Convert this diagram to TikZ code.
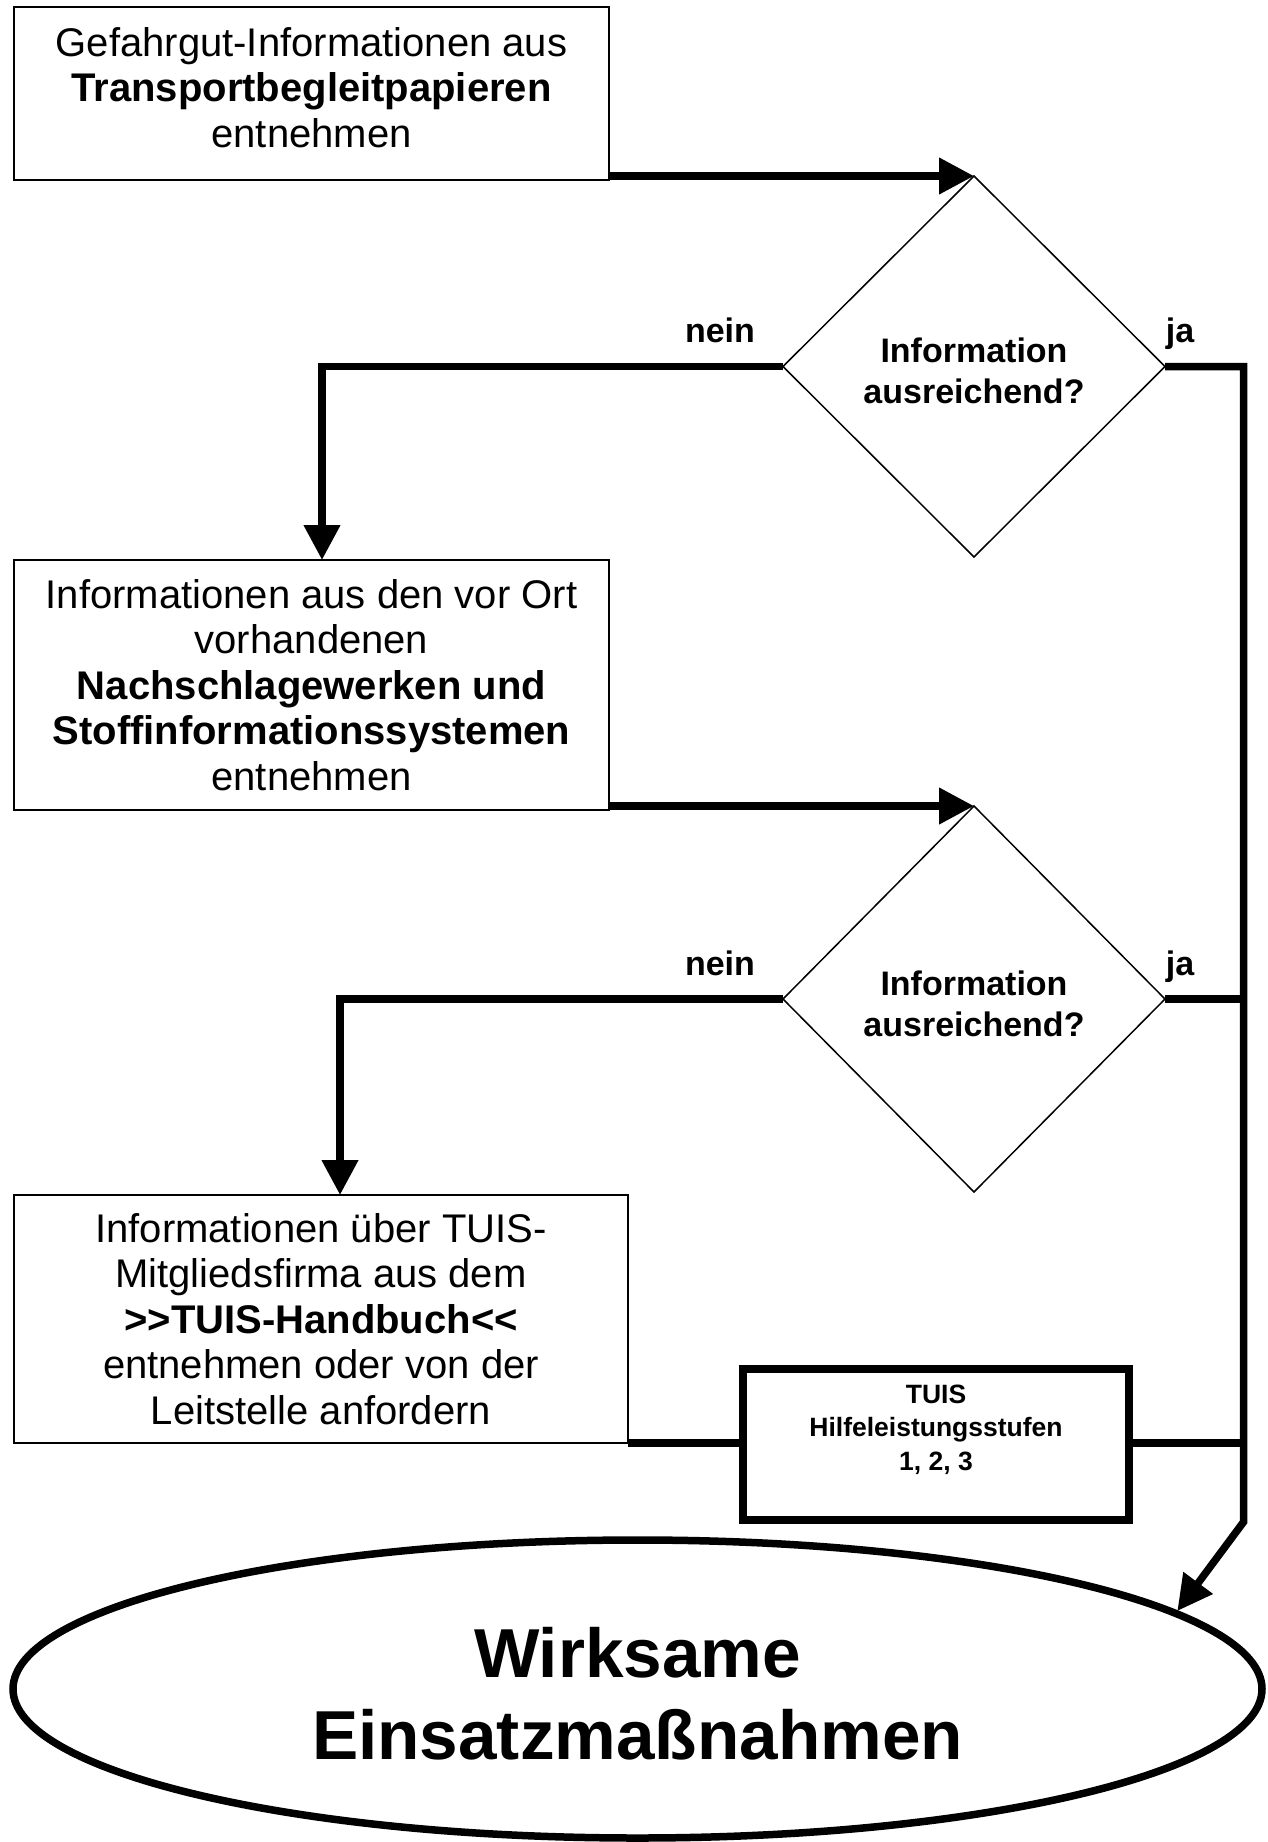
\documentclass[tikz,border=0pt]{standalone}
\usepackage{fontspec}
\setmainfont{Liberation Sans}
\usetikzlibrary{shapes.geometric,arrows.meta}
\begin{document}
\begin{tikzpicture}[x=1pt,y=-1pt,
  box/.style={draw,line width=1.5pt,rectangle,inner sep=0pt,outer sep=0pt,align=center,
    font=\fontsize{40}{45.5}\selectfont},
  dec/.style={draw,line width=1.5pt,diamond,inner sep=0pt,outer sep=0pt,
    minimum width=382pt},
  dectxt/.style={align=center,inner sep=0pt,font=\fontsize{34}{41.5}\selectfont\bfseries},
  lab/.style={inner sep=0pt,anchor=base,font=\fontsize{34}{41}\selectfont\bfseries},
  flow/.style={line width=7.5pt},
  arr/.style={flow,-{Triangle[length=35pt,width=35pt]}},
]
\useasboundingbox (0,0) rectangle (1268,1842);
\fill[white] (0,0) rectangle (1268,1842);

% boxes
\node[box,minimum width=595pt,minimum height=173pt] (b1) at (311.5,93.5) {};
\node[align=center,inner sep=0pt,font=\fontsize{40}{45.5}\selectfont] (t1)
  at ([yshift=6pt]b1.center)
  {Gefahrgut-Informationen aus\\\textbf{Transportbegleitpapieren}\\entnehmen};
\node[box,minimum width=595pt,minimum height=250pt] (b2) at (311.5,685)
  {Informationen aus den vor Ort\\vorhandenen\\\textbf{Nachschlagewerken und}\\\textbf{Stoffinformationssystemen}\\entnehmen};
\node[box,minimum width=614pt,minimum height=248pt] (b3) at (321,1319)
  {Informationen über TUIS-\\Mitgliedsfirma aus dem\\\textbf{{>}{>}TUIS-Handbuch{<}{<}}\\entnehmen oder von der\\Leitstelle anfordern};

% decisions
\node[dec,minimum height=381pt] (d1) at (974,366.5) {};
\node[dectxt] (d1t) at ([yshift=-4.5pt]d1.center) {Information\\ausreichend?};
\node[dec,minimum height=386pt] (d2) at (974,999) {};
\node[dectxt] (d2t) at ([yshift=-5pt]d2.center) {Information\\ausreichend?};

% TUIS box
\node[draw,line width=8pt,rectangle,minimum width=386pt,minimum height=151pt,
  inner sep=0pt,outer sep=0pt] (tuis) at (936,1444.5) {};
\node[align=center,inner sep=0pt,font=\fontsize{26.5}{33.5}\selectfont\bfseries] (tuistxt)
  at ([yshift=15pt]tuis.center) {TUIS\\Hilfeleistungsstufen\\1, 2, 3};

% final ellipse
\node[draw,ellipse,line width=7.5pt,minimum width=1249pt,minimum height=298pt,
  inner sep=0pt,outer sep=0pt] (ell) at (637.5,1689) {};
\node[align=center,inner sep=0pt,font=\fontsize{69.3}{82}\selectfont\bfseries] (ellt)
  at ([yshift=-4.5pt]ell.center) {Wirksame\\Einsatzmaßnahmen};

% labels
\node[lab] (n1) at (720,342) {nein};
\node[lab] (j1) at (1180,342) {ja};
\node[lab] (n2) at (720,975) {nein};
\node[lab] (j2) at (1180,975) {ja};

\coordinate (bend) at (1243.5,1522);

% connectors
\draw[arr] (b1.south east |- d1.north) -- (d1.north);
\draw[arr] (b2.south east |- d2.north) -- (d2.north);
\draw[arr] (d1.west) -| ([xshift=10.5pt]b2.north);
\draw[arr] (d2.west) -| ([xshift=19pt]b3.north);
\draw[arr,shorten >=3pt] (d1.east) -| (bend) -- (ell.8.25);
\draw[flow] (d2.east) -- (d2.east -| bend);
\draw[flow] (b3.south east) -- (b3.south east -| tuis.west);
\draw[flow] (b3.south east -| tuis.east) -- (b3.south east -| bend);
\end{tikzpicture}
\end{document}
